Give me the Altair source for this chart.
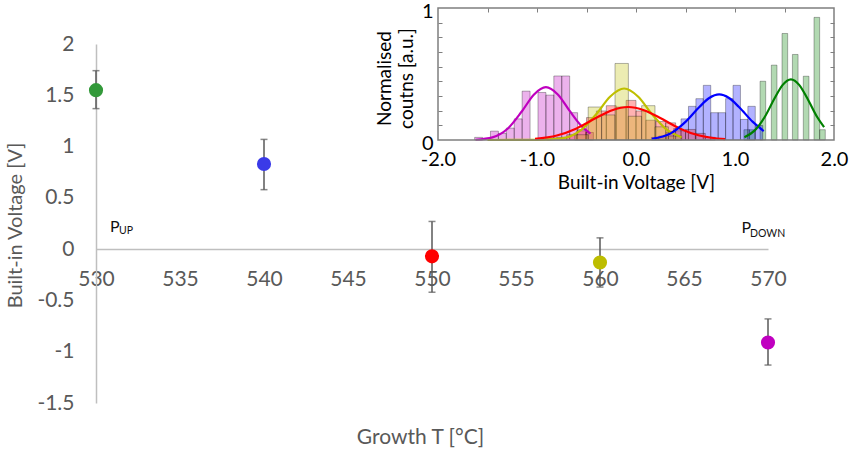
import altair as alt
import pandas as pd

# ---------------- main scatter data ----------------
temps = [530, 540, 550, 560, 570]
vbi = [1.55, 0.83, -0.07, -0.13, -0.91]
vbi_lo = [1.37, 0.58, -0.42, -0.37, -1.13]
vbi_hi = [1.74, 1.07, 0.27, 0.11, -0.68]
point_names = ["g", "b", "r", "y", "m"]
x_ticks = [530, 535, 540, 545, 550, 555, 560, 565, 570]
y_ticks = [-1.5, -1, -0.5, 0, 0.5, 1, 1.5, 2]

ann_main = ["P", "P"]
ann_main_x = [530.83, 568.43]
ann_main_y = [0.17, 0.16]
ann_sub = ["UP", "DOWN"]
ann_sub_x = [531.37, 568.93]
ann_sub_y = [0.146, 0.12]

# ---------------- inset histogram data ----------------
mag_w = 0.08
mag_left = [-1.63, -1.47, -1.39, -1.31, -1.23, -1.15, -0.99, -0.91, -0.83, -0.75, -0.67, -0.59, -0.51]
mag_h = [0.02, 0.067, 0.05, 0.09, 0.16, 0.37, 0.36, 0.34, 0.485, 0.485, 0.207, 0.08, 0.057]

red_w = 0.1
red_left = [-0.9, -0.8, -0.7, -0.6, -0.5, -0.4, -0.3, -0.2, -0.1, 0.0, 0.1, 0.2, 0.3, 0.4, 0.5, 0.6, 0.7]
red_h = [0.015, 0.02, 0.04, 0.07, 0.17, 0.22, 0.26, 0.25, 0.30, 0.22, 0.15, 0.14, 0.13, 0.07, 0.08, 0.05, 0.02]

yel_w = 0.135
yel_left = [-0.618, -0.483, -0.347, -0.212, -0.078, 0.057, 0.192, 0.327]
yel_h = [0.04, 0.25, 0.19, 0.58, 0.18, 0.26, 0.10, 0.03]

blue_w = 0.075
blue_left = [0.155, 0.23, 0.305, 0.38, 0.455, 0.53, 0.605, 0.68, 0.755, 0.83, 0.905, 0.98, 1.055, 1.13, 1.205]
blue_h = [0.02, 0.03, 0.06, 0.087, 0.16, 0.255, 0.313, 0.414, 0.207, 0.207, 0.313, 0.414, 0.156, 0.255, 0.11]

green_w = 0.057
green_left = [1.09, 1.145, 1.253, 1.367, 1.475, 1.58, 1.69, 1.798, 1.855]
green_h = [0.078, 0.078, 0.445, 0.567, 0.807, 0.648, 0.483, 0.929, 0.078]

# fitted curves
mag_cx = [-1.62, -1.45, -1.30, -1.15, -1.03, -0.91, -0.79, -0.67, -0.55, -0.46]
mag_cy = [0.002, 0.02, 0.083, 0.22, 0.345, 0.40, 0.345, 0.22, 0.105, 0.049]
yel_cx = [-1.50, -1.0, -0.75, -0.55, -0.40, -0.26, -0.12, 0.02, 0.16, 0.31, 0.46]
yel_cy = [0.0, 0.001, 0.012, 0.078, 0.197, 0.33, 0.39, 0.33, 0.197, 0.078, 0.021]
red_cx = [-1.02, -0.80, -0.60, -0.40, -0.24, -0.08, 0.08, 0.24, 0.44, 0.64, 0.90]
red_cy = [0.008, 0.034, 0.088, 0.168, 0.226, 0.25, 0.226, 0.168, 0.088, 0.034, 0.006]
blue_cx = [0.16, 0.35, 0.50, 0.64, 0.74, 0.84, 0.94, 1.04, 1.18, 1.29]
blue_cy = [0.0085, 0.05, 0.137, 0.25, 0.318, 0.345, 0.318, 0.25, 0.137, 0.068]
green_cx = [1.095, 1.20, 1.30, 1.40, 1.48, 1.565, 1.65, 1.73, 1.83, 1.90]
green_cy = [0.021, 0.073, 0.174, 0.316, 0.416, 0.46, 0.416, 0.316, 0.174, 0.097]

inset_x_ticks = [-2, -1, 0, 1, 2]
inset_top_ticks = [-1.5, -1, -0.5, 0, 0.5, 1, 1.5]
inset_minor_y = [0.111, 0.222, 0.333, 0.444, 0.556, 0.667, 0.778, 0.889]

series = ["g", "b", "r", "y", "m"]
point_colors = ["#33993a", "#3a3ae8", "#ff0000", "#bdbd00", "#c000c0"]
line_colors = ["#008000", "#0000ff", "#ff0000", "#bfbf00", "#bf00bf"]

FONT = "Lato"
GREY = "#595959"

# ---------------- frames ----------------
main_df = pd.DataFrame({"T": temps, "V": vbi, "lo": vbi_lo, "hi": vbi_hi, "s": point_names})
ann_df = pd.DataFrame({"t": ann_main, "x": ann_main_x, "y": ann_main_y})
sub_df = pd.DataFrame({"t": ann_sub, "x": ann_sub_x, "y": ann_sub_y})

rows = []
for name, lefts, hs, w in [("g", green_left, green_h, green_w), ("b", blue_left, blue_h, blue_w),
                           ("m", mag_left, mag_h, mag_w), ("r", red_left, red_h, red_w),
                           ("y", yel_left, yel_h, yel_w)]:
    for l, h in zip(lefts, hs):
        rows.append({"s": name, "x0": l, "x1": l + w, "h": h, "z": 0.0})
bars_df = pd.DataFrame(rows)

crow = []
for name, cx, cy in [("m", mag_cx, mag_cy), ("y", yel_cx, yel_cy), ("r", red_cx, red_cy),
                     ("b", blue_cx, blue_cy), ("g", green_cx, green_cy)]:
    for i, (a, b) in enumerate(zip(cx, cy)):
        crow.append({"s": name, "x": a, "y": b, "i": i})
curves_df = pd.DataFrame(crow)

frame_df = pd.DataFrame({"x0": [-2.0], "x1": [2.0], "y0": [0.0], "y1": [1.0]})

W, H = 672, 359
PAD_L, PAD_T = 96, 44

# ---------------- main layer ----------------
neg_fmt = "datum.value < 0 ? '-' + format(-datum.value, '~g') : format(datum.value, '~g')"
mxs = alt.Scale(domain=[530, 570], nice=False, zero=False)
mys = alt.Scale(domain=[-1.5, 2], nice=False, zero=False)
mx_axis = alt.Axis(values=x_ticks, offset=-154, domainColor="#bfbfbf", domainWidth=1.5,
                   ticks=False, grid=False, labelColor=GREY, labelFont=FONT, labelFontSize=21,
                   labelPadding=19, labelFlush=False, labelOverlap=False,
                   title="Growth T [°C]", titleFont=FONT, titleFontSize=21,
                   titleFontWeight="normal", titleColor=GREY, titleX=324, titleY=188,
                   titleBaseline="middle", titleAlign="center")
my_axis = alt.Axis(values=y_ticks, labelExpr=neg_fmt, domainColor="#bfbfbf", domainWidth=1.5,
                   ticks=False, grid=False, labelColor=GREY, labelFont=FONT, labelFontSize=21,
                   labelPadding=22, labelFlush=False, labelOverlap=False,
                   title="Built-in Voltage [V]", titleFont=FONT, titleFontSize=20,
                   titleFontWeight="normal", titleColor=GREY, titleX=-81, titleY=181,
                   titleBaseline="middle", titleAlign="center", titleAngle=-90)


def MX(f):
    return alt.X(f, scale=mxs, axis=mx_axis)


def MY(f):
    return alt.Y(f, scale=mys, axis=my_axis)


base = alt.Chart(main_df)
err = base.mark_rule(color=GREY, strokeWidth=1.5).encode(x=MX("T:Q"), y=MY("lo:Q"), y2="hi:Q")
cap_hi = base.mark_tick(color=GREY, orient="horizontal", size=7, thickness=1.5).encode(
    x=MX("T:Q"), y=MY("hi:Q"))
cap_lo = base.mark_tick(color=GREY, orient="horizontal", size=7, thickness=1.5).encode(
    x=MX("T:Q"), y=MY("lo:Q"))
pts = base.mark_circle(size=200, opacity=1).encode(
    x=MX("T:Q"), y=MY("V:Q"),
    color=alt.Color("s:N", scale=alt.Scale(domain=series, range=point_colors), legend=None))

ptxt = alt.Chart(ann_df).mark_text(font=FONT, fontSize=16, color="#111", align="left",
                                   baseline="alphabetic").encode(x=MX("x:Q"), y=MY("y:Q"), text="t:N")
stxt = alt.Chart(sub_df).mark_text(font=FONT, fontSize=10.5, color="#111", align="left",
                                   baseline="alphabetic").encode(x=MX("x:Q"), y=MY("y:Q"), text="t:N")

main = alt.layer(err, cap_hi, cap_lo, pts, ptxt, stxt)

# ---------------- inset ----------------
IX0, IX1 = 438 - PAD_L, 834 - PAD_L
IY0, IY1 = 140 - PAD_T, 8 - PAD_T
ixs = alt.Scale(domain=[-2, 2], range=[IX0, IX1], nice=False, zero=False)
iys = alt.Scale(domain=[0, 1], range=[IY0, IY1], nice=False, zero=False)
fmt1 = "datum.value < 0 ? '-' + format(-datum.value, '.1f') : format(datum.value, '.1f')"
ix_axis = alt.Axis(values=inset_x_ticks, labelExpr=fmt1, orient="bottom", offset=-(H - IY0),
                   domain=False, ticks=False, grid=False, labelColor="#000", labelFont=FONT,
                   labelFontSize=20, labelPadding=9, labelFlush=False, labelOverlap=False,
                   title="Built-in Voltage [V]", titleFont=FONT, titleFontSize=19,
                   titleFontWeight="normal", titleColor="#000", titleY=42, titleBaseline="middle")
iy_axis = alt.Axis(values=[0, 1], format="d", orient="left", offset=-IX0, domain=False, ticks=False,
                   grid=False, labelColor="#000", labelFont=FONT, labelFontSize=20, labelPadding=5,
                   labelOffset=3, labelFlush=False, labelOverlap=False,
                   title=["Normalised", "coutns [a.u.]"], titleFont=FONT, titleFontSize=19,
                   titleFontWeight="normal", titleColor="#000", titleX=-54, titleY=34,
                   titleBaseline="middle", titleAlign="center", titleAngle=-90, titleLineHeight=22,
                   titleLimit=300)

bars = alt.Chart(bars_df).mark_rect(fillOpacity=0.3, stroke="#000", strokeOpacity=0.3, strokeWidth=1).encode(
    x=alt.X("x0:Q", scale=ixs, axis=ix_axis), x2="x1:Q",
    y=alt.Y("h:Q", scale=iys, axis=iy_axis), y2="z:Q",
    fill=alt.Fill("s:N", scale=alt.Scale(domain=series, range=line_colors), legend=None))
curves = alt.Chart(curves_df).mark_line(strokeWidth=2.2, interpolate="monotone").encode(
    x=alt.X("x:Q", scale=ixs, axis=ix_axis),
    y=alt.Y("y:Q", scale=iys, axis=iy_axis),
    color=alt.Color("s:N", scale=alt.Scale(domain=series, range=line_colors), legend=None),
    order="i:Q")
frame = alt.Chart(frame_df).mark_rect(fill=None, stroke="#7f7f7f", strokeWidth=1.5).encode(
    x=alt.X("x0:Q", scale=ixs, axis=ix_axis), x2="x1:Q",
    y=alt.Y("y0:Q", scale=iys, axis=iy_axis), y2="y1:Q")
inset = alt.layer(bars, curves, frame)

# inward ticks via offset axes
tick_top = alt.Chart(frame_df).mark_rect(opacity=0).encode(
    x=alt.X("x0:Q", scale=ixs, axis=alt.Axis(values=inset_top_ticks, orient="top", offset=-(IY1 + 4),
                                             domain=False, labels=False, tickSize=4, tickColor="#7f7f7f",
                                             tickWidth=1, grid=False, title=None)),
    x2="x1:Q",
    y=alt.Y("y0:Q", scale=iys, axis=alt.Axis(values=inset_minor_y, orient="right", offset=IX1 - 4 - W,
                                             domain=False, labels=False, tickSize=4, tickColor="#7f7f7f",
                                             tickWidth=1, grid=False, title=None)),
    y2="y1:Q")
tick_left = alt.Chart(frame_df).mark_rect(opacity=0).encode(
    x=alt.X("x0:Q", scale=ixs, axis=None), x2="x1:Q",
    y=alt.Y("y0:Q", scale=iys, axis=alt.Axis(values=inset_minor_y, orient="left", offset=-(IX0 + 4),
                                             domain=False, labels=False, tickSize=4, tickColor="#7f7f7f",
                                             tickWidth=1, grid=False, title=None)),
    y2="y1:Q")

chart = alt.layer(main, inset, tick_top, tick_left).resolve_scale(
    x="independent", y="independent", color="independent", fill="independent"
).properties(
    width=W, height=H, autosize="none",
    padding={"left": PAD_L, "top": PAD_T, "right": 855 - PAD_L - W, "bottom": 451 - PAD_T - H},
    background="white"
).configure_view(stroke=None)

chart.save("out.html", embed_options={"renderer": "svg", "actions": False})
